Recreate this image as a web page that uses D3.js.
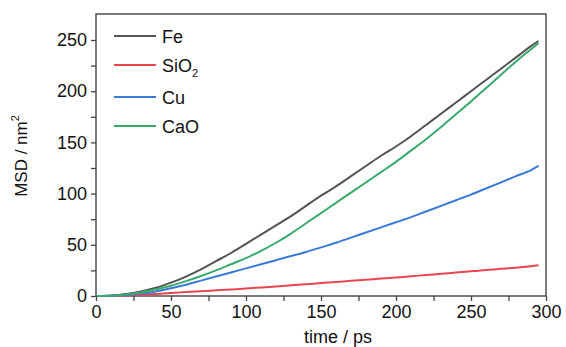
<!DOCTYPE html>
<html>
<head>
<meta charset="utf-8">
<script src="https://cdn.jsdelivr.net/npm/d3@7"></script>
<style>
  html, body { margin: 0; padding: 0; background: #fff; }
  svg { display: block; }
  text { font-family: "Liberation Sans", Arial, sans-serif; fill: #111; }
</style>
</head>
<body>
<svg id="chart" width="566" height="347"></svg>
<script>
// Simulation time (ps) and mean square displacement (nm^2) per material
const time = [0, 10, 20, 30, 40, 50, 60, 70, 80, 90, 100, 110, 120, 130, 140, 150,
              160, 170, 180, 190, 200, 210, 220, 230, 240, 250, 260, 270, 280, 290, 295];
const fe   = [0, 0.5, 2, 4.5, 8, 13, 19, 26, 34, 42, 51, 60, 69, 78, 88, 98,
              107, 117, 127, 137, 146, 156, 167, 178, 189, 200, 211, 222, 233, 244, 249];
const sio2 = [0, 0.1, 0.5, 1.2, 2, 3, 3.8, 4.6, 5.5, 6.4, 7.3, 8.3, 9.3, 10.4, 11.5, 12.6,
              13.7, 14.8, 15.9, 17, 18.1, 19.3, 20.5, 21.7, 22.9, 24.1, 25.3, 26.5, 27.7, 29, 30];
const cu   = [0, 0.2, 1, 2.5, 4.5, 7.5, 11, 15, 19, 23, 27, 31, 35, 39, 43, 47.5,
              52, 57, 62, 67, 72, 77, 82.5, 88, 93.5, 99, 105, 111, 117, 123, 127];
const cao  = [0, 0.3, 1.5, 3.5, 6.5, 10, 14.5, 19.5, 25, 31, 37, 44, 52, 61, 71, 81,
              91, 101, 111, 121, 131, 142, 153, 165, 177.5, 190, 203, 216, 229, 241, 247];

const seriesNames  = ["Fe", "SiO2", "Cu", "CaO"];
const seriesValues = [fe, sio2, cu, cao];
const seriesColors = ["#545454", "#e8464e", "#3a7bd8", "#3aaa6c"];

const xTicks = [0, 50, 100, 150, 200, 250, 300];
const yTicks = [0, 50, 100, 150, 200, 250];

const svg = d3.select("#chart");
const plotLeft = 96, plotRight = 546, plotTop = 14, plotBottom = 296;

const x = d3.scaleLinear().domain([0, 300]).range([plotLeft, plotRight]);
const y = d3.scaleLinear().domain([0, 275.4]).range([plotBottom, plotTop]);

const axisColor = "#444";

// Frame around the plot area
svg.append("rect")
  .attr("x", plotLeft).attr("y", plotTop)
  .attr("width", plotRight - plotLeft).attr("height", plotBottom - plotTop)
  .attr("fill", "none").attr("stroke", axisColor).attr("stroke-width", 1.4);

// Data lines
const line = d3.line()
  .x((d, i) => x(time[i]))
  .y(d => y(d))
  .curve(d3.curveMonotoneX);

seriesValues.forEach((vals, k) => {
  svg.append("path")
    .datum(vals)
    .attr("d", line)
    .attr("fill", "none")
    .attr("stroke", seriesColors[k])
    .attr("stroke-width", 2);
});

// X axis with minor ticks
const xAxisG = svg.append("g").attr("transform", `translate(0,${plotBottom})`);
xAxisG.append("g").call(d3.axisBottom(x).tickValues(d3.range(25, 300, 50)).tickSize(5).tickFormat(""));
xAxisG.append("g").call(d3.axisBottom(x).tickValues(xTicks).tickSize(5).tickPadding(4).tickFormat(d3.format("d")));
xAxisG.selectAll(".domain").remove();
xAxisG.selectAll("line").attr("stroke", axisColor).attr("stroke-width", 1.3);
xAxisG.selectAll("text").attr("font-size", 18).attr("fill", "#111")
  .style("font-family", "'Liberation Sans', Arial, sans-serif");

// Y axis with minor ticks
const yAxisG = svg.append("g").attr("transform", `translate(${plotLeft},0)`);
yAxisG.append("g").call(d3.axisLeft(y).tickValues(d3.range(25, 275, 50)).tickSize(5).tickFormat(""));
yAxisG.append("g").call(d3.axisLeft(y).tickValues(yTicks).tickSize(5).tickPadding(4).tickFormat(d3.format("d")));
yAxisG.selectAll(".domain").remove();
yAxisG.selectAll("line").attr("stroke", axisColor).attr("stroke-width", 1.3);
yAxisG.selectAll("text").attr("font-size", 18).attr("fill", "#111")
  .style("font-family", "'Liberation Sans', Arial, sans-serif");

// Axis titles
svg.append("text")
  .attr("x", 338).attr("y", 343)
  .attr("text-anchor", "middle")
  .attr("font-size", 18)
  .text("time / ps");

const yTitle = svg.append("text")
  .attr("transform", "translate(27,156) rotate(-90)")
  .attr("text-anchor", "middle")
  .attr("font-size", 17);
yTitle.append("tspan").text("MSD / nm");
yTitle.append("tspan").attr("font-size", 11).attr("dy", -8).text("2");

// Legend
const legendY = [36, 65, 97, 126];
seriesNames.forEach((name, k) => {
  const g = svg.append("g").attr("transform", `translate(114,${legendY[k]})`);
  g.append("line")
    .attr("x1", 0).attr("x2", 42)
    .attr("stroke", seriesColors[k]).attr("stroke-width", 2);
  const t = g.append("text").attr("x", 48).attr("y", 6.5).attr("font-size", 18);
  if (name === "SiO2") {
    t.append("tspan").text("SiO");
    t.append("tspan").attr("font-size", 11).attr("dy", 5).text("2");
  } else {
    t.text(name);
  }
});
</script>
</body>
</html>
